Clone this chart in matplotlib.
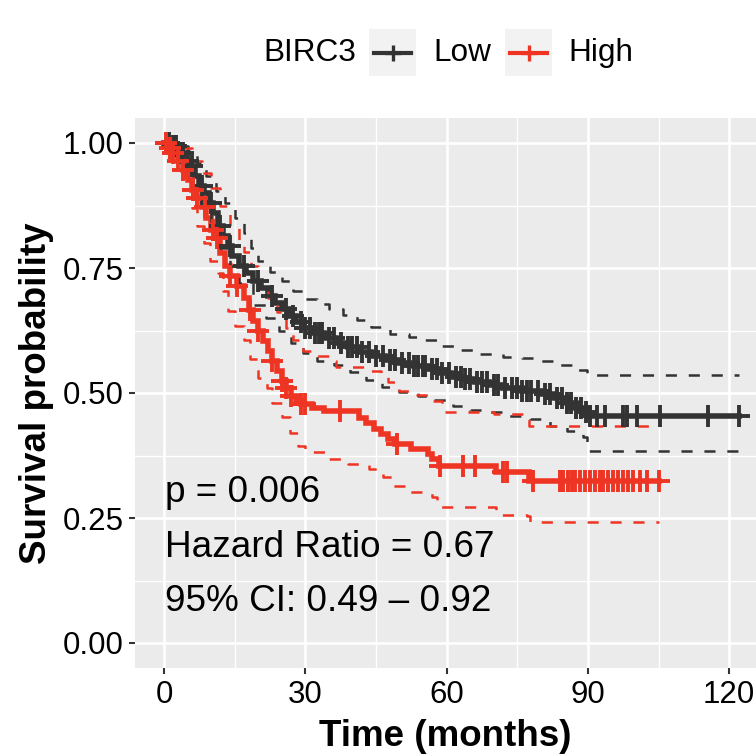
import numpy as np
import matplotlib.pyplot as plt
from matplotlib.lines import Line2D
from matplotlib.patches import Rectangle

plt.rcParams['font.family'] = ['Liberation Sans', 'DejaVu Sans']
plt.rcParams['lines.scale_dashes'] = False

# ---- data (time in months, survival probability) ----
# BIRC3 Low
low_t = [0, 1.5, 3, 4.5, 5.5, 6.5, 7.5, 8.5, 9.5, 10.5, 11.5, 12.5, 13.5, 14.5, 16, 17.5,
         19, 20.5, 22, 23.5, 25, 26.5, 28, 29.5, 31.5, 34, 36.5, 39, 41.5, 44, 47, 50, 53,
         56, 58.5, 61, 63.5, 66, 69, 72, 76, 80, 83, 85.5, 87.5, 89.2, 90.2]
low_s = [1.0, 0.995, 0.98, 0.965, 0.955, 0.935, 0.915, 0.90, 0.88, 0.86, 0.835, 0.815, 0.795,
         0.775, 0.755, 0.74, 0.725, 0.71, 0.695, 0.68, 0.668, 0.655, 0.642, 0.63, 0.62, 0.61,
         0.60, 0.592, 0.582, 0.575, 0.567, 0.56, 0.554, 0.548, 0.54, 0.533, 0.528, 0.522,
         0.516, 0.511, 0.505, 0.498, 0.49, 0.48, 0.47, 0.462, 0.455]
low_end = 122
low_up_t = [0, 3, 5, 7, 9, 11, 13, 15, 17, 18.5, 20, 22.5, 25, 27.5, 30, 32.5, 35, 38, 41, 44,
            48, 52, 55, 59, 63, 67, 72, 76, 80, 84, 88, 89.8]
low_up_s = [1.0, 0.995, 0.985, 0.96, 0.935, 0.905, 0.88, 0.85, 0.82, 0.79, 0.765, 0.743, 0.725,
            0.705, 0.688, 0.678, 0.668, 0.657, 0.647, 0.632, 0.618, 0.612, 0.606, 0.594, 0.586,
            0.579, 0.572, 0.570, 0.564, 0.556, 0.546, 0.536]
low_lo_t = [0, 2, 4, 6, 8, 10, 12, 14, 16, 19, 21.7, 24.5, 27, 29.5, 32.5, 36, 39.5, 43, 46.3,
            50, 54, 57, 61.4, 65, 69, 73, 77.7, 82, 85.6, 89, 89.8]
low_lo_s = [1.0, 0.985, 0.955, 0.915, 0.875, 0.84, 0.79, 0.755, 0.72, 0.677, 0.65, 0.625, 0.60,
            0.581, 0.565, 0.556, 0.542, 0.527, 0.512, 0.503, 0.494, 0.486, 0.474, 0.467, 0.462,
            0.455, 0.448, 0.434, 0.424, 0.412, 0.384]
low_cens = [0.5, 1, 2, 2.5, 3.5, 4, 5, 6, 8, 10, 12, 14, 17, 20, 23, 26, 27.5, 29, 30, 31, 32,
            33, 33.5, 35, 36, 37.5, 39, 40, 41, 42, 43.5, 45, 46.5, 48, 49, 50.5, 52, 53, 54,
            55, 55.5, 57, 58, 59, 60.5, 62, 63, 64, 65, 66.5, 67.5, 68.5, 70, 71, 72.5, 74, 75,
            76, 77, 78, 79.5, 81, 82, 83.5, 84.5, 85.5, 86.5, 87.5, 88.5, 89.5, 90.4, 91.9,
            93.6, 97.5, 98.3, 100.5, 105.3, 115.5, 122]

# BIRC3 High
high_t = [0, 1, 2, 3, 4, 5, 6, 7, 8, 9, 10, 11, 12, 13, 14, 15.5, 17, 18, 19, 20, 21, 22, 23,
          24, 25, 26, 27, 28, 29, 31.5, 34, 41.5, 43, 44.5, 46, 47.5, 49, 52.5, 56, 57, 58.5,
          70.5, 77.5]
high_s = [1.0, 0.99, 0.98, 0.965, 0.946, 0.926, 0.906, 0.89, 0.873, 0.85, 0.827, 0.81, 0.78,
          0.755, 0.735, 0.715, 0.69, 0.667, 0.645, 0.625, 0.605, 0.585, 0.565, 0.545, 0.525,
          0.51, 0.495, 0.485, 0.478, 0.47, 0.465, 0.45, 0.44, 0.428, 0.418, 0.408, 0.398,
          0.388, 0.378, 0.368, 0.355, 0.343, 0.325]
high_end = 105
high_up_t = [0, 2, 4, 6, 8, 10, 12, 14, 16, 17, 18.5, 20, 22, 24, 26, 27.5, 29.5, 31.5, 35,
             36.5, 43, 46, 47.5, 50, 53.7, 57, 59, 70, 77, 77.5]
high_up_s = [1.0, 1.0, 0.99, 0.965, 0.94, 0.91, 0.875, 0.835, 0.80, 0.782, 0.755, 0.725, 0.69,
             0.662, 0.63, 0.607, 0.585, 0.575, 0.565, 0.553, 0.545, 0.535, 0.522, 0.505, 0.497,
             0.484, 0.463, 0.458, 0.452, 0.434]
high_lo_t = [0, 2, 3, 4.5, 6, 7, 8.5, 9.8, 11.5, 12.5, 13.5, 15, 17, 18.3, 20, 21.8, 23, 25,
             26.8, 28.5, 30, 35, 39, 43.5, 46.5, 48.5, 52, 57, 58, 70.5, 77, 77.7]
high_lo_s = [1.0, 0.975, 0.95, 0.906, 0.87, 0.835, 0.80, 0.765, 0.74, 0.705, 0.665, 0.635,
             0.607, 0.568, 0.53, 0.511, 0.481, 0.453, 0.421, 0.395, 0.383, 0.368, 0.358, 0.349,
             0.333, 0.315, 0.303, 0.293, 0.273, 0.257, 0.255, 0.243]
high_cens = [0.5, 1.3, 2, 3, 4, 6.2, 7, 8.7, 10.4, 11.2, 14, 15.5, 18.3, 20, 23, 25, 26, 27,
             29, 30, 37.4, 49.5, 58.6, 63.5, 66, 72, 72.8, 78.3, 84.1, 84.7, 85.8, 86.6, 87.3,
             88.3, 89.4, 90.4, 91.5, 92.6, 93.2, 94.3, 95.3, 96.4, 97.5, 98.5, 99.6, 101,
             102.5, 105]

group_name = 'BIRC3'
labels = ['Low', 'High']
colors = ['#333333', '#EE3524']
stats_text = ['p = 0.006', 'Hazard Ratio = 0.67', '95% CI: 0.49 \u2013 0.92']
x_ticks = [0, 30, 60, 90, 120]
y_ticks = [0.0, 0.25, 0.5, 0.75, 1.0]


def steps(t, s, end):
    return list(t) + [end], list(s) + [s[-1]]


def surv_at(t, s, x):
    idx = np.searchsorted(t, x, side='right') - 1
    return np.array(s)[idx]


W = 756
fig = plt.figure(figsize=(7.56, 7.56), dpi=100)
ax = fig.add_axes([135 / W, 1 - 668 / W, 1 - 135 / W, 550 / W])
ax.set_facecolor('#EBEBEB')

groups = [
    (low_t, low_s, low_end, low_up_t, low_up_s, low_lo_t, low_lo_s, low_cens),
    (high_t, high_s, high_end, high_up_t, high_up_s, high_lo_t, high_lo_s, high_cens),
]

for (t, s, end, ut, us, lt, ls, cens), col in zip(groups, colors):
    x, y = steps(t, s, end)
    ax.plot(x, y, drawstyle='steps-post', color=col, lw=4.0, zorder=3,
            solid_joinstyle='miter')
for (t, s, end, ut, us, lt, ls, cens), col in zip(groups, colors):
    for ct, cs in [(ut, us), (lt, ls)]:
        x, y = steps(ct, cs, end)
        ax.plot(x, y, drawstyle='steps-post', color=col, lw=1.8, dashes=(8, 8.5), zorder=4)
for (t, s, end, ut, us, lt, ls, cens), col in zip(groups, colors):
    ax.plot(cens, surv_at(t, s, cens), ls='none', marker='+', ms=15.5, mew=2.8,
            color=col, zorder=5)

for i, txt in enumerate(stats_text):
    ax.text(0.2, 0.281 - i * 0.1085, txt, fontsize=26.6, va='baseline', ha='left',
            color='black', zorder=6)

ax.set_xlim(-6.15, 125.7)
ax.set_ylim(-0.05, 1.05)
ax.set_xticks(x_ticks)
ax.set_yticks(y_ticks)
ax.set_xticklabels([str(v) for v in x_ticks])
ax.set_yticklabels(['%.2f' % v for v in y_ticks])
ax.set_xticks([15, 45, 75, 105], minor=True)
ax.set_yticks([0.125, 0.375, 0.625, 0.875], minor=True)
ax.grid(which='major', color='white', lw=1.9)
ax.grid(which='minor', color='white', lw=0.95)
ax.set_axisbelow(True)
ax.tick_params(which='major', length=4.3, width=1.5, color='#333333', labelsize=22.5,
               labelcolor='black', pad=4)
ax.tick_params(which='minor', length=0)
for sp in ax.spines.values():
    sp.set_visible(False)

ax.set_xlabel('Time (months)', fontsize=26.5, fontweight='bold', labelpad=7)
ax.set_ylabel('Survival probability', fontsize=26.5, fontweight='bold', labelpad=6)

# legend on top, drawn in figure pixel coordinates
def fx(px):
    return px / W


def fy(py):
    return 1 - py / W


fig.text(fx(263), fy(53), group_name, fontsize=22.7, va='center', ha='left')
key_left = [369, 505]
text_left = [433, 568]
for kl, tl, lab, col in zip(key_left, text_left, labels, colors):
    fig.patches.append(Rectangle((fx(kl), fy(76)), 47 / W, 47 / W, transform=fig.transFigure,
                                 facecolor='#F2F2F2', edgecolor='none'))
    fig.lines.append(Line2D([fx(kl + 5), fx(kl + 42)], [fy(52.5), fy(52.5)],
                            transform=fig.transFigure, color=col, lw=3.0))
    fig.lines.append(Line2D([fx(kl + 23.5)], [fy(52.5)], transform=fig.transFigure,
                            color=col, marker='+', ms=12, mew=2.4, ls='none'))
    fig.text(fx(tl), fy(53), lab, fontsize=22.7, va='center', ha='left')

fig.savefig('out.png', dpi=100, facecolor='white')
